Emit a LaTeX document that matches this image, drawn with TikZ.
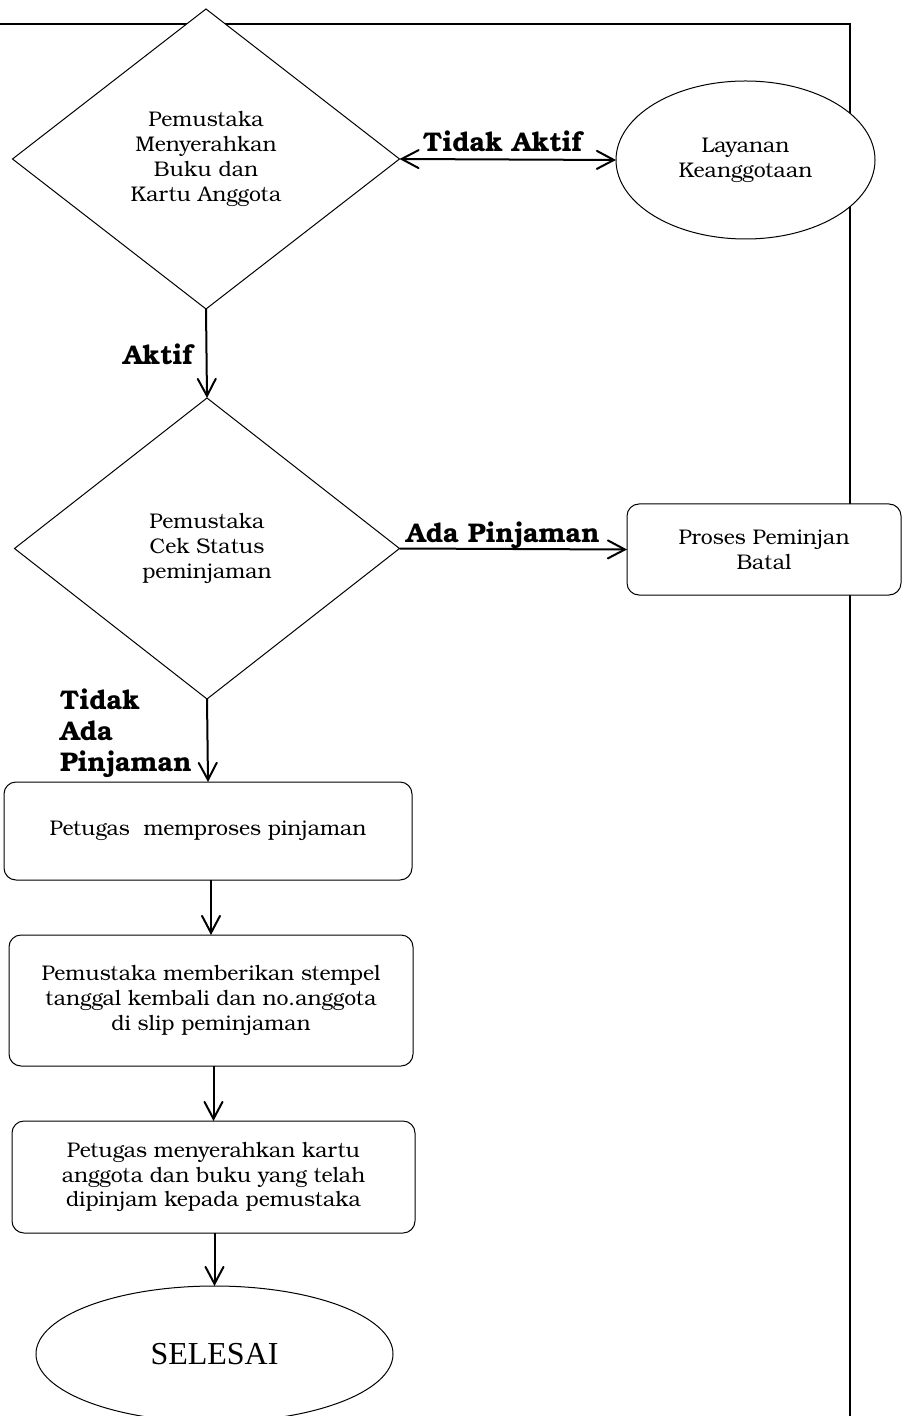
\documentclass[tikz,border=0pt]{standalone}
\usepackage{fontspec}
\setmainfont{TeX Gyre Bonum}
\newfontfamily\selfont{Liberation Serif}
\usetikzlibrary{shapes.geometric,arrows.meta}
\begin{document}
\begin{tikzpicture}[x=0.5pt,y=-0.5pt,
  >={Straight Barb[length=8.5pt,width=9pt,line cap=round]},
  every node/.style={inner sep=0pt,outer sep=0pt},
  shp/.style={draw,line width=0.5pt,fill=white,align=center,font=\fontsize{10.6}{12.4}\selectfont},
  dec/.style={shp,diamond},
  proc/.style={shp,rectangle,rounded corners=6pt},
  term/.style={shp,ellipse},
  conn/.style={line width=1pt,->},
  lbl/.style={font=\bfseries\fontsize{13.5}{15.5}\selectfont,align=left},
  frameline/.style={line width=1.25pt}]
\useasboundingbox (0,0) rectangle (913,1416);
\draw[frameline] (0,24) -- (850,24) -- (850,1420);

\node[dec,minimum width=193.5pt,minimum height=150pt] (d1) at (206,159) {Pemustaka\\Menyerahkan\\Buku dan\\Kartu Anggota};
\node[term,minimum width=129.5pt,minimum height=79pt] (lay) at (745.5,160) {Layanan\\Keanggotaan};
\node[dec,minimum width=192.5pt,minimum height=150.5pt] (d2) at (207,548.5) {Pemustaka\\Cek Status\\peminjaman};
\node[proc,minimum width=137pt,minimum height=45.5pt] (batal) at (764,549.5) {Proses Peminjan\\Batal};
\node[proc,minimum width=204pt,minimum height=49pt] (p1) at (208,831) {Petugas\ \ memproses pinjaman};
\node[proc,minimum width=202pt,minimum height=65.5pt] (p2) at (211,1000.5) {Pemustaka memberikan stempel\\tanggal kembali dan no.anggota\\di slip peminjaman};
\node[proc,minimum width=201.5pt,minimum height=56pt] (p3) at (213.5,1177) {Petugas menyerahkan kartu\\anggota dan buku yang telah\\dipinjam kepada pemustaka};
\node[term,minimum width=178.5pt,minimum height=68pt,font=\selfont\fontsize{16}{19}\selectfont] (end) at (214.5,1354) {SELESAI};

\draw[conn,<->] (d1.east) -- (lay.west);
\draw[conn] (d1.south) -- (d2.north);
\draw[conn] (d2.east) -- (batal.west);
\draw[conn] (d2.south) -- (p1.north);
\draw[conn] (p2.north |- p1.south) -- (p2.north);
\draw[conn] (p3.north |- p2.south) -- (p3.north);
\draw[conn] (end.north |- p3.south) -- (end.north);

\node[lbl,anchor=base west] (ltidakaktif) at (423,152) {Tidak Aktif};
\node[lbl,anchor=base west] (laktif) at (123,365) {Aktif};
\node[lbl,anchor=base west] (lada) at (406,542) {Ada Pinjaman};
\node[lbl,anchor=west] (ltidak) at (60,733) {Tidak\\Ada\\Pinjaman};
\end{tikzpicture}
\end{document}
